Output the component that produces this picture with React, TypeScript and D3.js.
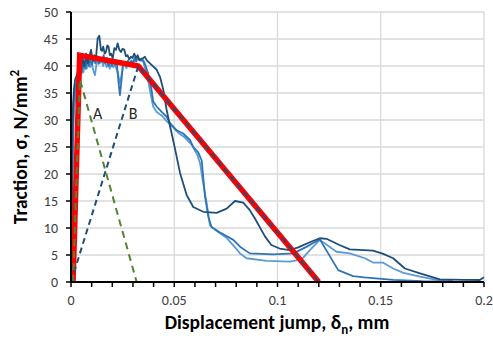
import React from "react";
import * as d3 from "d3";

const W = 493, H = 338;
const M = { left: 71, right: 9, top: 12, bottom: 56 };

const xTicks = [0, 0.05, 0.1, 0.15, 0.2];
const xTickLabels = ["0", "0.05", "0.1", "0.15", "0.2"];
const yTicks = [0, 5, 10, 15, 20, 25, 30, 35, 40, 45, 50];

const darkX = [0,0.0004,0.0007,0.001,0.0015,0.002,0.003,0.004,0.0048,0.0057,0.0065,0.0073,0.0081,0.0089,0.0097,0.0105,0.0113,0.0121,0.0129,0.0137,0.0145,0.015,0.0156,0.0163,0.0169,0.0176,0.0182,0.0188,0.0194,0.0202,0.021,0.0218,0.0226,0.0234,0.0242,0.025,0.0258,0.0266,0.0274,0.0282,0.029,0.0298,0.0306,0.0315,0.0323,0.033,0.034,0.0347,0.0358,0.0366,0.039,0.0415,0.0431,0.0447,0.0463,0.048,0.0503,0.0528,0.056,0.0592,0.064,0.0705,0.0754,0.0794,0.0834,0.0866,0.089,0.094,0.097,0.101,0.106,0.11,0.1165,0.1205,0.1237,0.13,0.135,0.1463,0.1512,0.156,0.1617,0.169,0.1786,0.19,0.198,0.2];
const darkY = [0,12,28,33,36,37.5,38.5,40,39,41.4,40,42.3,40.5,41.7,43,41,42,41.5,45.1,45.6,43,42.8,43.6,42.3,42.6,43.8,43.6,42,42.3,41.4,43.3,43,44.2,43,42.6,43.2,43,41.8,42,41.2,41.7,41.5,42.3,41.5,42,41.1,41.3,41.4,41.7,41.1,40.2,39.3,38,35.6,31.9,28.8,24.8,20.2,16.1,13.9,13.0,12.8,13.6,15,14.7,13.3,11.8,8.4,6.85,6.2,5.9,6.4,7.5,8.1,8.0,6.85,6.05,5.8,5.2,4.4,2.5,1.6,0.5,0.4,0.37,0.87];

const midX = [0,0.0005,0.0009,0.0013,0.002,0.003,0.004,0.005,0.006,0.007,0.0078,0.0086,0.0094,0.0102,0.011,0.0118,0.0126,0.0134,0.0142,0.015,0.0158,0.0166,0.0174,0.0182,0.019,0.0198,0.0206,0.0214,0.0222,0.023,0.0237,0.0245,0.0252,0.026,0.0268,0.0276,0.0284,0.0292,0.03,0.0308,0.0316,0.0324,0.0334,0.035,0.036,0.0374,0.039,0.0398,0.0415,0.0439,0.0463,0.048,0.0512,0.0543,0.0576,0.0592,0.0616,0.0633,0.064,0.0649,0.0665,0.068,0.072,0.0786,0.082,0.0866,0.0979,0.1076,0.114,0.1205,0.1294,0.1366,0.142,0.156,0.17,0.185];
const midY = [0,15,28,33,36,37.5,39.5,38.5,40.5,39.5,41.8,40,41.2,40.2,41.5,40.5,41.8,40.4,41.2,40.8,42,40.5,41.5,40,41,40,40.8,40.2,40.5,37,34.6,37.5,40.5,40.8,40,41,40.2,41,40.6,41.5,40.8,41.7,41,41.1,40.2,38.6,35.6,33.4,32.5,31.5,30.6,29.4,28.1,27.5,26.3,25,24,22.5,19.5,15.8,12.1,10.2,9.2,7.8,6.5,5.3,5.1,5.3,6.5,7.9,2.2,1.1,0.87,0.4,0.15,0.05];

const lightX = [0,0.0006,0.001,0.0015,0.0025,0.0035,0.0045,0.0053,0.006,0.0068,0.0076,0.0084,0.0092,0.01,0.0108,0.0116,0.0124,0.0132,0.014,0.0148,0.0156,0.0164,0.0172,0.018,0.0188,0.0196,0.0204,0.0212,0.022,0.0228,0.0236,0.0244,0.0252,0.026,0.0268,0.0276,0.0284,0.0292,0.03,0.0318,0.035,0.037,0.0385,0.0398,0.0415,0.044,0.0463,0.049,0.052,0.055,0.0585,0.0612,0.0625,0.064,0.0657,0.0673,0.07,0.075,0.08,0.0818,0.085,0.0947,0.106,0.1117,0.1157,0.1205,0.1286,0.135,0.1423,0.1463,0.151,0.156,0.161,0.169,0.177,0.185];
const lightY = [0,12,26,32,35.5,37.5,38.5,40,38.8,40.8,39.5,41,39.8,40.5,39.2,38.3,40.5,41.5,40.5,41.3,40,41.2,39.8,40.6,39.5,40.4,39.8,40.2,39.5,38.5,36.8,38.2,40,40.5,39.6,40.5,40.1,40.7,40.3,41.7,40.8,38,35,32.5,31.5,30.8,29.8,28.8,27.6,26.8,25.4,23.5,22,18.3,14.6,10.5,9.6,8.3,6.2,5.3,4.4,3.9,3.77,4.2,5.9,7.8,5.6,5.3,4.4,3.6,3.6,2.5,1.7,1.0,0.4,0.2];

const redX = [0.001, 0.0042, 0.0326, 0.12];
const redY = [0, 42, 40, 0];
const greenX = [0.001, 0.0043, 0.0318];
const greenY = [0, 37.5, 0];
const bX = [0, 0.0326, 0.12];
const bY = [0, 40, 0];

const labelA = { t: "A", x: 0.0129, y: 31.3 };
const labelB = { t: "B", x: 0.0301, y: 31.3 };

export default function App() {
  const x = d3.scaleLinear().domain([0, 0.2]).range([M.left, W - M.right]);
  const y = d3.scaleLinear().domain([0, 50]).range([H - M.bottom, M.top]);
  const line = d3.line<[number, number]>().x(d => x(d[0])).y(d => y(d[1]));
  const zip = (a: number[], b: number[]) => a.map((v, i) => [v, b[i]] as [number, number]);
  const minor = d3.range(0, 0.2001, 0.01);
  const font = "Carlito, 'Liberation Sans', Arial, sans-serif";
  return (
    <svg width={W} height={H} style={{ position: "absolute", left: 0, top: 0, background: "#fff" }} fontFamily={font}>
      {yTicks.slice(1).map(t => (
        <line key={"gy" + t} x1={x(0)} x2={x(0.2)} y1={y(t)} y2={y(t)} stroke="#d9d9d9" strokeWidth={1.3} />
      ))}
      {xTicks.slice(1).map(t => (
        <line key={"gx" + t} x1={x(t)} x2={x(t)} y1={y(0)} y2={y(50)} stroke="#d9d9d9" strokeWidth={1.3} />
      ))}
      <path d={line(zip(lightX, lightY))!} fill="none" stroke="#5b9bd5" strokeWidth={1.8} strokeLinejoin="round" />
      <path d={line(zip(midX, midY))!} fill="none" stroke="#2e75b6" strokeWidth={1.8} strokeLinejoin="round" />
      <path d={line(zip(darkX, darkY))!} fill="none" stroke="#1f4e79" strokeWidth={1.8} strokeLinejoin="round" />
      <path d={line(zip(redX, redY))!} fill="none" stroke="#ff0000" strokeWidth={5.5} strokeLinejoin="miter" />
      <path d={line(zip(bX, bY))!} fill="none" stroke="#1f4e79" strokeWidth={2} strokeDasharray="6,4" />
      <path d={line(zip(greenX, greenY))!} fill="none" stroke="#548235" strokeWidth={2} strokeDasharray="7,5" />
      <line x1={x(0)} x2={x(0.2)} y1={y(0)} y2={y(0)} stroke="#000" strokeWidth={2} />
      <line x1={x(0)} x2={x(0)} y1={y(0)} y2={y(50)} stroke="#000" strokeWidth={2} />
      {minor.map(t => (
        <line key={"mx" + t} x1={x(t)} x2={x(t)} y1={y(0)} y2={y(0) + 5} stroke="#000" strokeWidth={1.5} />
      ))}
      {yTicks.map(t => (
        <line key={"ty" + t} x1={x(0) - 5} x2={x(0)} y1={y(t)} y2={y(t)} stroke="#000" strokeWidth={1.5} />
      ))}
      {yTicks.map(t => (
        <text key={"ly" + t} x={x(0) - 13} y={y(t)} dy="0.35em" textAnchor="end" fontSize={14} fill="#404040">{t}</text>
      ))}
      {xTicks.map((t, i) => (
        <text key={"lx" + t} x={x(t)} y={y(0) + 23} textAnchor="middle" fontSize={14} fill="#404040">{xTickLabels[i]}</text>
      ))}
      <text x={x(labelA.x)} y={y(labelA.y)} dy="0.35em" textAnchor="middle" fontSize={16} fill="#262626">{labelA.t}</text>
      <text x={x(labelB.x)} y={y(labelB.y)} dy="0.35em" textAnchor="middle" fontSize={16} fill="#262626">{labelB.t}</text>
      <text transform={`translate(27,${(y(0) + y(50)) / 2}) rotate(-90)`} textAnchor="middle" fontSize={19.5} fontWeight="bold" fill="#000">
        Traction, σ, N/mm<tspan fontSize={13} dy={-8}>2</tspan>
      </text>
      <text x={277} y={329} textAnchor="middle" fontSize={19.5} fontWeight="bold" fill="#000">
        Displacement jump, δ<tspan fontSize={13} dy={5}>n</tspan><tspan dy={-5}>, mm</tspan>
      </text>
    </svg>
  );
}
